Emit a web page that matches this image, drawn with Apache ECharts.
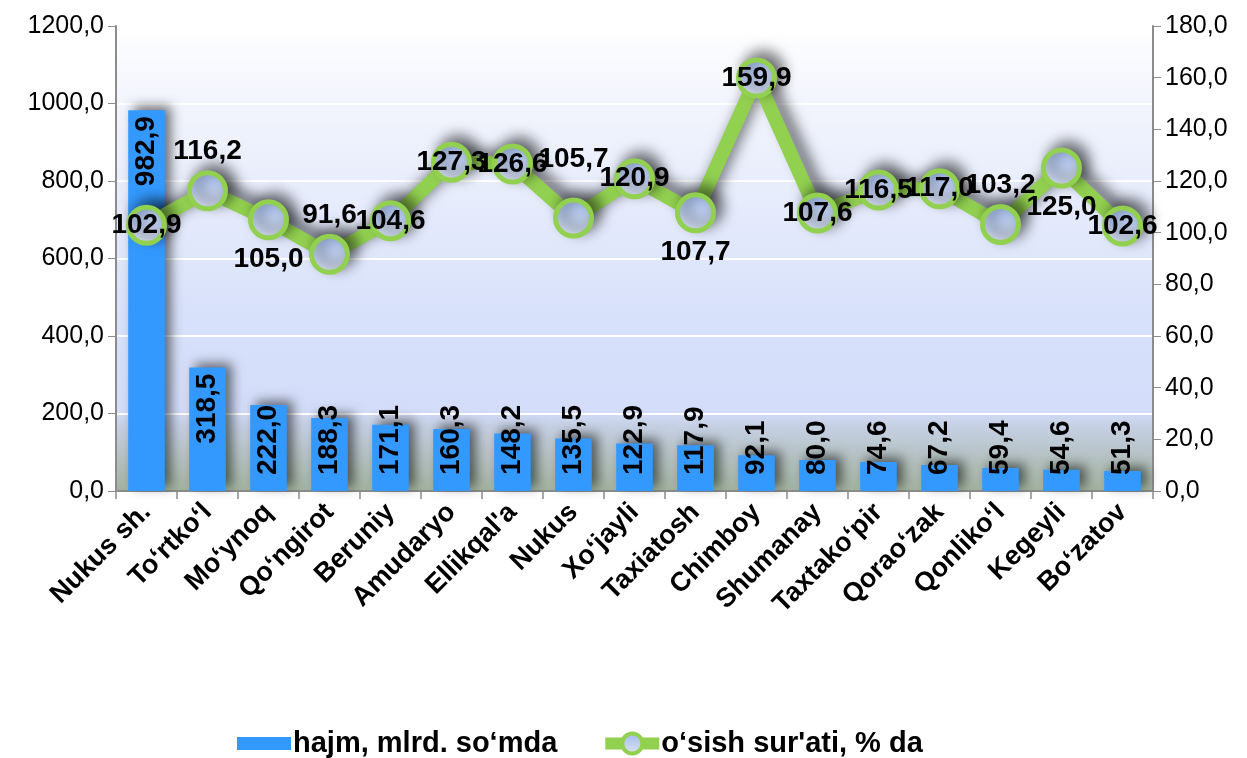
<!DOCTYPE html>
<html>
<head>
<meta charset="utf-8">
<script src="https://cdn.jsdelivr.net/npm/echarts@6/dist/echarts.min.js"></script>
<style>
html,body{margin:0;padding:0;background:#fff;}
#main{width:1247px;height:758px;}
</style>
</head>
<body>
<div id="main"></div>
<script>
// ---- data ----
const categories = ["Nukus sh.", "To\u2018rtko\u2018l", "Mo\u2018ynoq", "Qo\u2018ngirot", "Beruniy", "Amudaryo", "Ellikqal'a", "Nukus", "Xo\u2018jayli", "Taxiatosh", "Chimboy", "Shumanay", "Taxtako\u2018pir", "Qorao\u2018zak", "Qonliko\u2018l", "Kegeyli", "Bo\u2018zatov"];
const volume = [982.9, 318.5, 222.0, 188.3, 171.1, 160.3, 148.2, 135.5, 122.9, 117.9, 92.1, 80.0, 74.6, 67.2, 59.4, 54.6, 51.3];
const growth = [102.9, 116.2, 105.0, 91.6, 104.6, 127.3, 126.6, 105.7, 120.9, 107.7, 159.9, 107.6, 116.5, 117.0, 103.2, 125.0, 102.6];
const seriesNames = ["hajm, mlrd. so\u2018mda", "o\u2018sish sur'ati, % da"];

// ---- label placement (styling) ----
const lineLabelPlacement = ["inside","top","bottom","top","inside","inside","inside","top","inside","bottom","inside","inside","inside","inside","top","bottom","inside"];

const fmt = v => v.toFixed(1).replace('.', ',');
const FONT = "'Liberation Sans', Arial, sans-serif";

const barData = volume.map(v => {
  const small = v < 227;
  return {
    value: v,
    label: small
      ? {position: 'insideBottom', distance: 16, align: 'left'}
      : {position: 'insideTop', distance: 6, align: 'right'}
  };
});

const lineData = growth.map((v, i) => {
  const lab = {position: lineLabelPlacement[i]};
  if (i === 7) lab.distance = 24;
  return {value: v, label: lab};
});

const markerFill = {
  type: 'linear', x: 0, y: 0, x2: 0, y2: 1,
  colorStops: [
    {offset: 0, color: '#9db6e6'},
    {offset: 1, color: '#e2e9f9'}
  ]
};

const chart = echarts.init(document.getElementById('main'));
chart.setOption({
  animation: false,
  backgroundColor: '#ffffff',
  textStyle: {fontFamily: FONT},
  grid: {
    left: 116, right: 94, top: 26, bottom: 267,
    show: true,
    borderWidth: 0,
    backgroundColor: {
      type: 'linear', x: 0, y: 0, x2: 0, y2: 1,
      colorStops: [
        {offset: 0, color: '#ffffff'},
        {offset: 0.16, color: '#f3f5fd'},
        {offset: 0.33, color: '#e9eefc'},
        {offset: 0.6, color: '#d9e2fb'},
        {offset: 0.825, color: '#d3ddf9'},
        {offset: 0.86, color: '#c6d0e4'},
        {offset: 1, color: '#a2b29e'}
      ]
    }
  },
  legend: {
    top: 724,
    left: 232,
    itemGap: 42,
    itemWidth: 54,
    itemHeight: 25,
    textStyle: {fontFamily: FONT, fontSize: 29, fontWeight: 'bold', color: '#000', padding: [0, 0, 0, -3]},
    data: [
      {name: seriesNames[0], icon: 'path://M0,0L0,0M0,6H54V19H0ZM54,25L54,25'},
      {name: seriesNames[1], lineStyle: {width: 12, color: '#92d050', shadowBlur: 0, shadowOffsetX: 0, shadowOffsetY: 0},
       itemStyle: {color: markerFill, borderColor: '#92d050', borderWidth: 4, shadowBlur: 0, shadowOffsetX: 0, shadowOffsetY: 0}}
    ]
  },
  xAxis: {
    type: 'category',
    data: categories,
    boundaryGap: true,
    axisLine: {lineStyle: {color: '#8c8c8c', width: 2}},
    axisTick: {show: true, length: 8, alignWithLabel: false, lineStyle: {color: '#8c8c8c', width: 1.5}},
    axisLabel: {
      interval: 0, rotate: 45, margin: 17,
      fontFamily: FONT, fontSize: 27, fontWeight: 'bold', color: '#000'
    }
  },
  yAxis: [
    {
      type: 'value', min: 0, max: 1200, interval: 200,
      axisLine: {show: true, lineStyle: {color: '#8c8c8c', width: 2}},
      axisTick: {show: true, length: 8, lineStyle: {color: '#8c8c8c'}},
      axisLabel: {formatter: v => fmt(v), fontFamily: FONT, fontSize: 25, color: '#000', margin: 12},
      splitLine: {show: true, lineStyle: {color: '#ffffff', width: 2}}
    },
    {
      type: 'value', min: 0, max: 180, interval: 20,
      position: 'right',
      axisLine: {show: true, lineStyle: {color: '#8c8c8c', width: 2}},
      axisTick: {show: true, length: 8, lineStyle: {color: '#8c8c8c'}},
      axisLabel: {formatter: v => fmt(v), fontFamily: FONT, fontSize: 25, color: '#000', margin: 12},
      splitLine: {show: false}
    }
  ],
  series: [
    {
      name: seriesNames[0],
      type: 'bar',
      yAxisIndex: 0,
      barWidth: '60%',
      data: barData,
      itemStyle: {
        color: '#3399ff',
        shadowColor: 'rgba(0,0,0,0.55)',
        shadowBlur: 12,
        shadowOffsetX: 6,
        shadowOffsetY: -4
      },
      label: {
        show: true,
        rotate: 90,
        verticalAlign: 'middle',
        formatter: p => fmt(p.value),
        fontFamily: FONT, fontSize: 28, fontWeight: 'bold', color: '#000'
      },
      z: 2
    },
    {
      name: seriesNames[1],
      type: 'line',
      yAxisIndex: 1,
      data: lineData,
      symbol: 'circle',
      symbolSize: 36,
      lineStyle: {
        color: '#92d050',
        width: 14,
        shadowColor: 'rgba(0,0,0,0.55)',
        shadowBlur: 14,
        shadowOffsetX: 7,
        shadowOffsetY: -6
      },
      itemStyle: {
        color: markerFill,
        borderColor: '#92d050',
        borderWidth: 5,
        shadowColor: 'rgba(0,0,0,0.5)',
        shadowBlur: 14,
        shadowOffsetX: 7,
        shadowOffsetY: -6
      },
      label: {
        show: true,
        formatter: p => fmt(p.value),
        fontFamily: FONT, fontSize: 28, fontWeight: 'bold', color: '#000'
      },
      z: 3
    }
  ]
});
</script>
</body>
</html>
